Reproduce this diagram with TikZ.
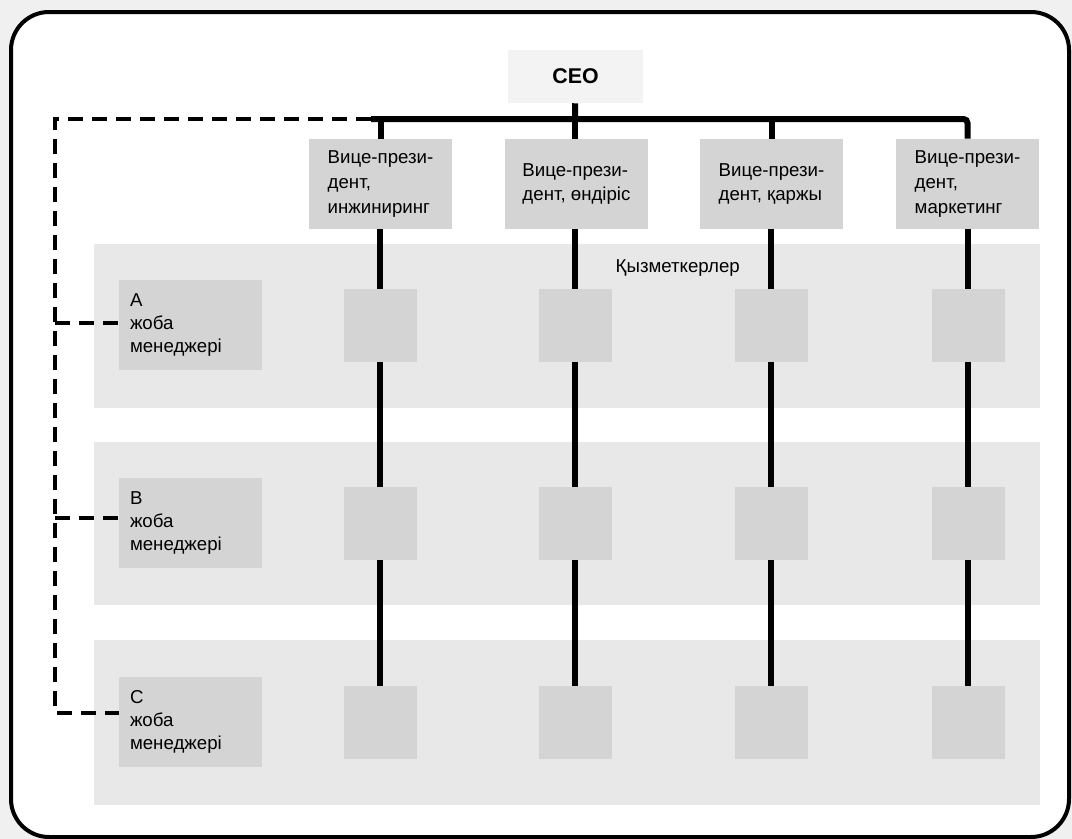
\documentclass[tikz,border=0pt]{standalone}
\usepackage{fontspec}
\setmainfont{Liberation Sans}

\definecolor{bandgrey}{HTML}{E8E8E8}
\definecolor{boxgrey}{HTML}{D4D4D4}
\definecolor{ceogrey}{HTML}{F3F3F3}
\definecolor{shadegrey}{HTML}{F0F0F0}

\tikzset{
  vpbox/.style={fill=boxgrey, minimum width=107.25pt, minimum height=67.5pt,
    align=left, inner sep=0pt, font=\fontsize{14}{18.5}\selectfont},
  pmbox/.style={fill=boxgrey, text width=90.75pt, inner xsep=8.25pt, inner ysep=0pt,
    minimum height=67.5pt, align=left, font=\fontsize{14}{17}\selectfont},
  staff/.style={fill=boxgrey, minimum size=54.75pt, inner sep=0pt},
  orgline/.style={line width=4.5pt},
  pmline/.style={line width=3pt, dash pattern=on 11.25pt off 6.75pt},
}

\begin{document}
\begin{tikzpicture}[x=0.75pt, y=-0.75pt]

	% Rahmen
	\fill[shadegrey] (0,0) rectangle (1072,839);
	\useasboundingbox (0,0) rectangle (1072,839);
	\draw[line width=3pt, fill=white, rounded corners=28.5pt] (11,12) rectangle (1069,837);

	% Baender
	\fill[bandgrey] (94,244) rectangle (1040,408);
	\fill[bandgrey] (94,442) rectangle (1040,605);
	\fill[bandgrey] (94,640) rectangle (1040,805);
	\node[anchor=west, font=\fontsize{14}{17}\selectfont] (staffhead) at (611,268) {Қызметкерлер};

	% CEO
	\node[fill=ceogrey, minimum width=101.25pt, minimum height=39.75pt, inner sep=0pt,
	  font=\fontsize{16}{18}\bfseries] (ceo) at (575.5,76.5) {CEO};

	% Vize
	\node[vpbox] (vpeng) at (380.5,184) {Вице-прези-\\дент,\\инжиниринг};
	\node[vpbox] (vpprod) at (576.5,184) {Вице-прези-\\дент, өндіріс};
	\node[vpbox] (vpfin) at (771.5,184) {Вице-прези-\\дент, қаржы};
	\node[vpbox] (vpmkt) at (967.5,184) {Вице-прези-\\дент,\\маркетинг};

	% Projektmanager
	\node[pmbox] (pma) at (190.5,325) {A\\жоба\\менеджері};
	\node[pmbox] (pmb) at (190.5,523) {B\\жоба\\менеджері};
	\node[pmbox] (pmc) at (190.5,722) {C\\жоба\\менеджері};

	% Mitarbeiter
	\node[staff] (sa1) at (380,325.5) {};
	\node[staff] (sa2) at (575,325.5) {};
	\node[staff] (sa3) at (771,325.5) {};
	\node[staff] (sa4) at (968,325.5) {};
	\node[staff] (sb1) at (380,523.5) {};
	\node[staff] (sb2) at (575,523.5) {};
	\node[staff] (sb3) at (771,523.5) {};
	\node[staff] (sb4) at (968,523.5) {};
	\node[staff] (sc1) at (380,722.5) {};
	\node[staff] (sc2) at (575,722.5) {};
	\node[staff] (sc3) at (771,722.5) {};
	\node[staff] (sc4) at (968,722.5) {};

	% Linien
	\coordinate (bus) at (575,119);
	\coordinate (busl) at (371,119);
	\draw[orgline] (ceo) -- (bus);
	\draw[orgline, rounded corners=3pt] (busl) -- (bus) -| (vpmkt.north);
	\draw[orgline] (vpeng.north |- bus) -- (vpeng);
	\draw[orgline] (bus) -- (vpprod.north -| bus);
	\draw[orgline] (vpfin.north |- bus) -- (vpfin);
	\draw[orgline] (vpeng.south -| sa1) -- (sa1) -- (sb1) -- (sc1);
	\draw[orgline] (vpprod.south -| sa2) -- (sa2) -- (sb2) -- (sc2);
	\draw[orgline] (vpfin.south -| sa3) -- (sa3) -- (sb3) -- (sc3);
	\draw[orgline] (vpmkt.south -| sa4) -- (sa4) -- (sb4) -- (sc4);

	% Projektlinien
	\coordinate (dasha) at (55,323);
	\coordinate (dashb) at (55,518);
	\coordinate (dashc) at (55,713);
	\draw[pmline] (busl) -| (dashc) -- (pmc.west |- dashc);
	\draw[pmline] (dasha) -- (pma.west |- dasha);
	\draw[pmline] (dashb) -- (pmb.west |- dashb);

\end{tikzpicture}
\end{document}
